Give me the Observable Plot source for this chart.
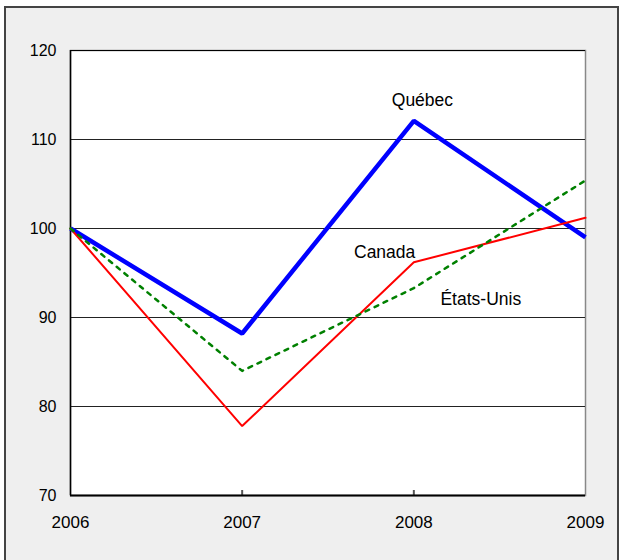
<!DOCTYPE html>
<html><head><meta charset="utf-8">
<script src="https://cdn.jsdelivr.net/npm/d3@7"></script>
<script src="https://cdn.jsdelivr.net/npm/@observablehq/plot@0.6"></script>
<style>
html,body{margin:0;padding:0;background:#fff;}
#wrap{position:relative;width:621px;height:560px;overflow:hidden;}
#box{position:absolute;left:4px;top:6px;width:611px;height:560px;border:2px solid #444;border-bottom:none;background:#efefef;}
#chart{position:absolute;left:0;top:0;}
</style></head><body>
<div id="wrap"><div id="box"></div><div id="chart"></div></div>
<script>
const years = [2006, 2007, 2008, 2009];
const quebec = [100, 88.2, 112.1, 99.0];
const canada = [100, 77.8, 96.2, 101.2];
const etatsUnis = [100, 84.0, 93.3, 105.4];
const seriesNames = ["Québec", "Canada", "États-Unis"];
const yTicks = [70, 80, 90, 100, 110, 120];
const gridValues = [80, 90, 100, 110];
const innerTickYears = [2007, 2008];
const labelYears = [2008.05, 2007.83, 2008.39];
const labelValues = [114.4, 97.3, 92.0];

const seriesValues = [quebec, canada, etatsUnis];
const rows = seriesNames.flatMap((name, s) => years.map((year, i) => ({series: name, year, value: seriesValues[s][i]})));
const labels = seriesNames.map((name, i) => ({name, year: labelYears[i], value: labelValues[i]}));
const of = name => rows.filter(d => d.series === name);

const chart = Plot.plot({
  width: 621,
  height: 560,
  marginLeft: 70,
  marginRight: 36,
  marginTop: 50,
  marginBottom: 65,
  style: {background: "transparent", fontFamily: "'Liberation Sans', Arial, sans-serif", color: "#000"},
  x: {domain: [2006, 2009]},
  y: {domain: [70, 120]},
  marks: [
    Plot.frame({fill: "white", stroke: "#888", strokeWidth: 1.5}),
    Plot.ruleY(gridValues, {stroke: "#222", strokeWidth: 1}),
    Plot.ruleY([120], {stroke: "#000", strokeWidth: 1}),
    Plot.ruleX([2006], {stroke: "#000", strokeWidth: 1.5}),
    Plot.axisY({ticks: yTicks, tickSize: 0, tickPadding: 14, fontSize: 16, label: null}),
    Plot.axisX({ticks: years, tickFormat: "d", tickSize: 0, tickPadding: 20, fontSize: 17, label: null}),
    Plot.axisX({ticks: innerTickYears, tickSize: -5, tickFormat: () => "", stroke: "#555", strokeWidth: 2, label: null}),
    Plot.line(of("Québec"), {x: "year", y: "value", stroke: "#0000ff", strokeWidth: 4.5, strokeLinejoin: "miter", strokeLinecap: "butt"}),
    Plot.line(of("Canada"), {x: "year", y: "value", stroke: "#ff0000", strokeWidth: 2, strokeLinejoin: "miter"}),
    Plot.line(of("États-Unis"), {x: "year", y: "value", stroke: "#008000", strokeWidth: 2.5, strokeDasharray: "4,6"}),
    Plot.ruleY([70], {stroke: "#000", strokeWidth: 2}),
    Plot.text(labels, {x: "year", y: "value", text: "name", fontSize: 17.5, fill: "#000", textAnchor: "middle"})
  ]
});
document.getElementById("chart").appendChild(chart);
</script>
</body></html>
